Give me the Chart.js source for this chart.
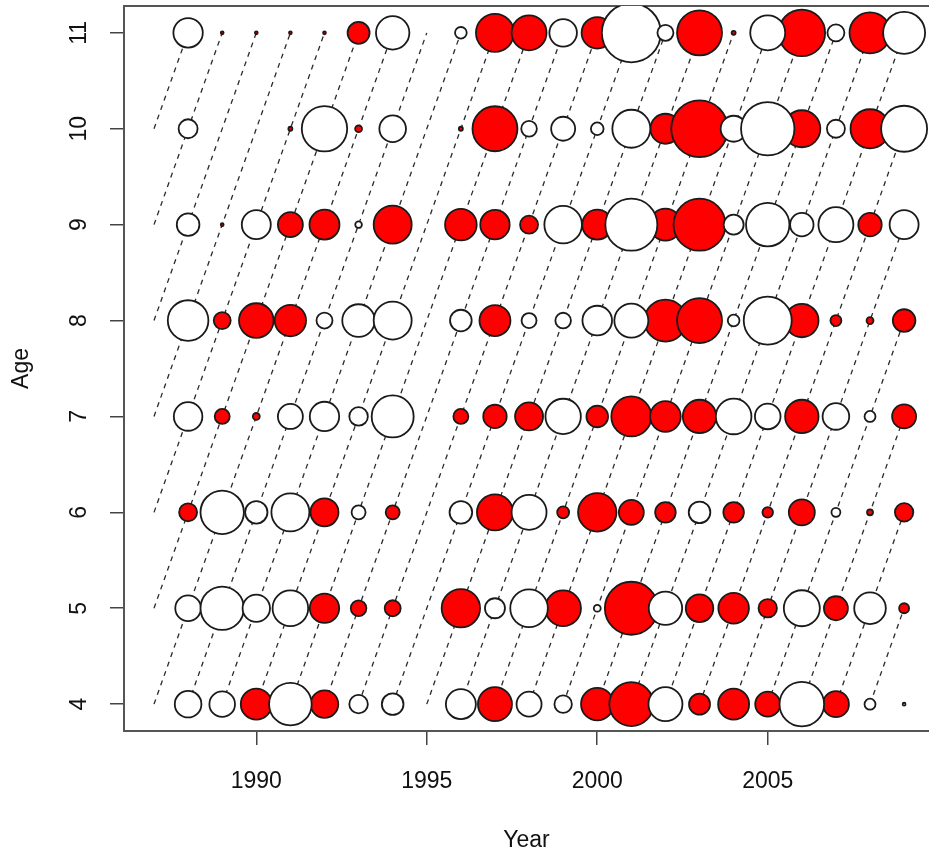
<!DOCTYPE html>
<html>
<head>
<meta charset="utf-8">
<script src="https://cdn.jsdelivr.net/npm/chart.js@4"></script>
<style>
  html, body { margin: 0; padding: 0; background: #fff; overflow: hidden; }
  #wrap { width: 929px; height: 862px; }
</style>
</head>
<body>
<div id="wrap"><canvas id="bubbles" width="929" height="862"></canvas></div>
<script>
// residuals by age, one entry per year 1987..2009 (no data for 1987 and 1995)
// red = negative, white = positive, radius ~ sqrt(|value|)
const years = [1987, 1988, 1989, 1990, 1991, 1992, 1993, 1994, 1995, 1996, 1997, 1998,
	1999, 2000, 2001, 2002, 2003, 2004, 2005, 2006, 2007, 2008, 2009];
const ages = [4, 5, 6, 7, 8, 9, 10, 11];

const resAge4 = [null, 1.77, 1.64, -2.40, 4.54, -1.90, 0.86, 1.17, null, 2.25, -2.89, 1.56,
	0.76, -2.62, -4.84, 2.89, -1.10, -2.40, -1.56, 4.97, -1.69, 0.30, 0.02];
const resAge5 = [null, 1.64, 4.71, 1.88, 3.17, -2.16, -0.61, -0.64, null, -3.69, 1.00, 3.53,
	-3.17, 0.12, -7.02, 2.79, -1.90, -2.34, -0.85, 3.24, -1.44, 2.50, -0.25];
const resAge6 = [null, -0.81, 4.71, 1.25, 3.61, -1.96, 0.49, -0.49, null, 1.28, -3.24, 3.06,
	-0.36, -3.69, -1.56, -1.06, 1.17, -1.06, -0.28, -1.69, 0.20, -0.09, -0.85];
const resAge7 = [null, 2.04, -0.56, -0.12, 1.56, 2.16, 0.86, 4.41, null, -0.56, -1.37, -1.96,
	3.13, -1.17, -4.00, -2.34, -2.79, 3.17, 1.64, -2.79, 1.77, 0.30, -1.44];
const resAge8 = [null, 4.12, -0.72, -2.99, -2.46, 0.64, 2.66, 3.61, null, 1.17, -2.40, 0.56,
	0.61, 2.19, 2.89, -4.41, -5.06, 0.34, 5.76, -2.79, -0.30, -0.12, -1.28];
const resAge9 = [null, 1.28, -0.02, 2.10, -1.56, -2.25, 0.11, -3.61, null, -2.50, -2.16, -0.81,
	3.53, -2.25, 6.76, -2.56, -6.76, 1.00, 4.71, 1.37, 3.06, -1.37, 2.10];
const resAge10 = [null, 0.90, 0, 0, -0.04, 5.15, -0.12, 1.77, null, -0.04, -5.06, 0.61,
	1.44, 0.40, 3.61, -2.25, -8.01, 1.69, 7.13, -3.42, 0.81, -3.80, 5.29];
const resAge11 = [null, 2.16, -0.02, -0.02, -0.02, -0.02, -1.21, 2.79, null, 0.34, -3.61, -3.06,
	1.90, -2.46, 8.70, 0.64, -5.06, -0.04, 3.06, -5.43, 0.72, -4.20, 4.41];

const xTicks = [1990, 1995, 2000, 2005];
const yTicks = [4, 5, 6, 7, 8, 9, 10, 11];

const residuals = [resAge4, resAge5, resAge6, resAge7, resAge8, resAge9, resAge10, resAge11];

Chart.defaults.font.family = "'Liberation Sans', Arial, sans-serif";
Chart.defaults.color = '#111';

// bubbles of one sign
function bubblePoints(sign) {
	const pts = [];
	years.forEach((yr, i) => {
		ages.forEach((age, j) => {
			const v = residuals[j][i];
			if (v === null || v === 0 || Math.sign(v) !== sign) return;
			pts.push({ x: yr, y: age, r: 10 * Math.sqrt(Math.abs(v)) });
		});
	});
	return pts;
}

// dashed cohort lines (year - age constant), kept inside the year/age range
function cohortLines() {
	const firstYear = years[0], lastYear = years[years.length - 1];
	const minAge = ages[0], maxAge = ages[ages.length - 1];
	const pts = [];
	for (let c = firstYear - maxAge; c <= lastYear - minAge; c++) {
		const y0 = Math.max(firstYear, c + minAge);
		const y1 = Math.min(lastYear, c + maxAge);
		pts.push({ x: y0, y: y0 - c }, { x: y1, y: y1 - c }, { x: null, y: null });
	}
	return pts;
}

// fixed box sizes so the plot area matches the picture, no label overhang padding
function fixBox(size) {
	return s => {
		if (s.isHorizontal()) s.height = size; else s.width = size;
		s.paddingTop = 0; s.paddingBottom = 0; s.paddingLeft = 0; s.paddingRight = 0;
	};
}

new Chart(document.getElementById('bubbles'), {
	type: 'bubble',
	data: {
		datasets: [
			{
				label: 'positive',
				data: bubblePoints(1),
				backgroundColor: '#ffffff',
				borderColor: '#1a1a1a',
				borderWidth: 1.8,
				order: 0,
				clip: 0
			},
			{
				label: 'negative',
				data: bubblePoints(-1),
				backgroundColor: '#ff0000',
				borderColor: '#1a1a1a',
				borderWidth: 1.8,
				order: 1,
				clip: 0
			},
			{
				type: 'line',
				label: 'cohorts',
				data: cohortLines(),
				borderColor: '#2a2a2a',
				borderWidth: 1.3,
				borderDash: [5, 5],
				pointRadius: 0,
				fill: false,
				spanGaps: false,
				order: 2,
				clip: 0
			}
		]
	},
	options: {
		responsive: false,
		animation: false,
		events: [],
		layout: { padding: 0, autoPadding: false },
		plugins: {
			legend: { display: false },
			tooltip: { enabled: false }
		},
		scales: {
			x: {
				type: 'linear',
				position: 'bottom',
				min: 1986.12,
				max: 2009.73,
				afterBuildTicks: s => { s.ticks = xTicks.map(v => ({ value: v })); },
				afterFit: fixBox(131),
				grid: { display: true, drawOnChartArea: false, drawTicks: true, tickLength: 14, color: '#444', lineWidth: 1.5 },
				border: { display: true, color: '#555', width: 2 },
				ticks: { padding: 23, font: { size: 23 }, maxRotation: 0, autoSkip: false, callback: v => String(v) },
				title: { display: true, text: 'Year', font: { size: 23 }, padding: { top: 0, bottom: 8 } }
			},
			x2: {
				type: 'linear',
				position: 'top',
				min: 0,
				max: 1,
				afterFit: fixBox(6),
				grid: { display: true, drawOnChartArea: false, drawTicks: false },
				border: { display: true, color: '#555', width: 2 },
				ticks: { display: false }
			},
			y: {
				type: 'linear',
				position: 'left',
				min: 3.72,
				max: 11.28,
				afterBuildTicks: s => { s.ticks = yTicks.map(v => ({ value: v })); },
				afterFit: fixBox(124),
				grid: { display: true, drawOnChartArea: false, drawTicks: true, tickLength: 14, color: '#444', lineWidth: 1.5 },
				border: { display: true, color: '#555', width: 2 },
				ticks: { padding: 18, font: { size: 23 }, minRotation: 90, maxRotation: 90, crossAlign: 'center', autoSkip: false, callback: v => String(v) },
				title: { display: true, text: 'Age', font: { size: 23 }, padding: { top: 8, bottom: 0 } }
			}
		}
	}
});
</script>
</body>
</html>
